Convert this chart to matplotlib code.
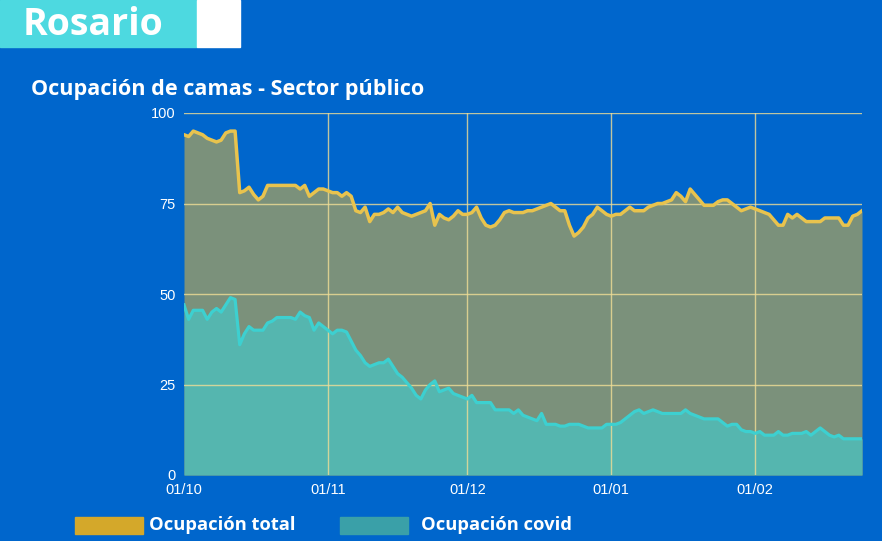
import numpy as np
import pandas as pd
import matplotlib
matplotlib.use("Agg")
import matplotlib.pyplot as plt
import matplotlib.dates as mdates
from matplotlib.patches import Rectangle

# daily values, 01/10/2020 -> 24/02/2021
start = "2020-10-01"
total = [94, 93.5, 95, 94.5, 94, 93, 92.5, 92, 92.5, 94.5, 95, 95, 78, 78.5, 79.5, 77.5,
         76, 77, 80, 80, 80, 80, 80, 80, 80, 79, 80, 77, 78, 79, 79,
         78.5, 78, 78, 77, 78, 77, 73, 72.5, 74, 70, 72, 72, 72.5, 73.5, 72.5, 74, 72.5,
         72, 71.5, 72, 72.5, 73, 75, 69, 72, 71, 70.5, 71.5, 73, 72,
         72, 72.5, 74, 71, 69, 68.5, 69, 70.5, 72.5, 73, 72.5, 72.5, 72.5, 73, 73, 73.5,
         74, 74.5, 75, 74, 73, 73, 69, 66, 67, 68.5, 71, 72, 74, 73, 72,
         71.5, 72, 72, 73, 74, 73, 73, 73, 74, 74.5, 75, 75, 75.5, 76, 78, 77, 75.5,
         79, 77.5, 76, 74.5, 74.5, 74.5, 75.5, 76, 76, 75, 74, 73, 73.5, 74,
         73.5, 73, 72.5, 72, 70.5, 69, 69, 72, 71, 72, 71, 70, 70, 70, 70, 71, 71, 71,
         71, 69, 69, 71.5, 72, 73]
covid = [47, 43, 45.5, 45.5, 45.5, 43, 45, 46, 45, 47, 49, 48.5, 36, 39, 41, 40, 40,
         40, 42, 42.5, 43.5, 43.5, 43.5, 43.5, 43, 45, 44, 43.5, 40, 42, 41,
         40, 39, 40, 40, 39.5, 37, 34.5, 33, 31, 30, 30.5, 31, 31, 32, 30, 28, 27, 25.5,
         24, 22, 21, 23.5, 25, 26, 23, 23.5, 24, 22.5, 22, 21.5,
         21, 22, 20, 20, 20, 20, 18, 18, 18, 18, 17, 18, 16.5, 16, 15.5, 15, 17, 14, 14,
         14, 13.5, 13.5, 14, 14, 14, 13.5, 13, 13, 13, 13, 14,
         14, 14, 14.5, 15.5, 16.5, 17.5, 18, 17, 17.5, 18, 17.5, 17, 17, 17, 17, 17, 18,
         17, 16.5, 16, 15.5, 15.5, 15.5, 15.5, 14.5, 13.5, 14, 14, 12.5, 12, 12,
         11.5, 12, 11, 11, 11, 12, 11, 11, 11.5, 11.5, 11.5, 12, 11, 12, 13, 12, 11,
         10.5, 11, 10, 10, 10, 10, 10]
yticks = [0, 25, 50, 75, 100]
xticks = ["2020-10-01", "2020-11-01", "2020-12-01", "2021-01-01", "2021-02-01"]

dates = pd.date_range(start, periods=len(total), freq="D")

bg = "#0066CC"
fig = plt.figure(figsize=(8.82, 5.41), dpi=100, facecolor=bg)
ax = fig.add_axes([184/882, 66/541, 678/882, 362/541])
ax.set_facecolor(bg)

ax.fill_between(dates, 0, total, color="#7B917B", lw=0, zorder=1)
ax.fill_between(dates, 0, covid, color="#55B6AF", lw=0, zorder=2)
ax.plot(dates, total, color="#E8C34E", lw=2.5, zorder=4)
ax.plot(dates, covid, color="#3DD0D0", lw=2.3, zorder=4)

for y in yticks[1:]:
    ax.axhline(y, color="#F0DE96", lw=1, alpha=0.8, zorder=3)
for d in xticks[1:]:
    ax.axvline(pd.Timestamp(d), color="#F0DE96", lw=1, alpha=0.8, zorder=3)

ax.set_xlim(dates[0], dates[-1])
ax.set_ylim(0, 100)
ax.set_yticks(yticks)
ax.set_xticks([pd.Timestamp(d) for d in xticks])
ax.xaxis.set_major_formatter(mdates.DateFormatter("%d/%m"))
ax.tick_params(colors="white", labelsize=10.5, length=0, pad=6)
for lab in ax.get_xticklabels() + ax.get_yticklabels():
    lab.set_family("Liberation Sans")
for s in ax.spines.values():
    s.set_visible(False)

# header
fig.patches.append(Rectangle((0, 1 - 47/541), 197/882, 47/541, transform=fig.transFigure,
                             color="#4DD9E0", zorder=0))
fig.patches.append(Rectangle((197/882, 1 - 47/541), 43/882, 47/541, transform=fig.transFigure,
                             color="white", zorder=0))
fig.text(23/882, 1 - 25/541, "Rosario", color="white", fontsize=27, fontweight="bold",
         family="Open Sans", va="center", ha="left")
fig.text(31/882, 1 - 90/541, "Ocupación de camas - Sector público", color="white",
         fontsize=15.6, fontweight="bold", family="Open Sans", va="center", ha="left")

# legend
fig.patches.append(Rectangle((75/882, 1 - 534/541), 68/882, 17/541, transform=fig.transFigure,
                             color="#D4A82A"))
fig.text(149/882, 1 - 525/541, "Ocupación total", color="white", fontsize=13.2,
         fontweight="bold", family="Open Sans", va="center")
fig.patches.append(Rectangle((340/882, 1 - 534/541), 68/882, 17/541, transform=fig.transFigure,
                             color="#3AA0A8"))
fig.text(421/882, 1 - 525/541, "Ocupación covid", color="white", fontsize=13.2,
         fontweight="bold", family="Open Sans", va="center")

fig.savefig("out.png", dpi=100, facecolor=bg)
